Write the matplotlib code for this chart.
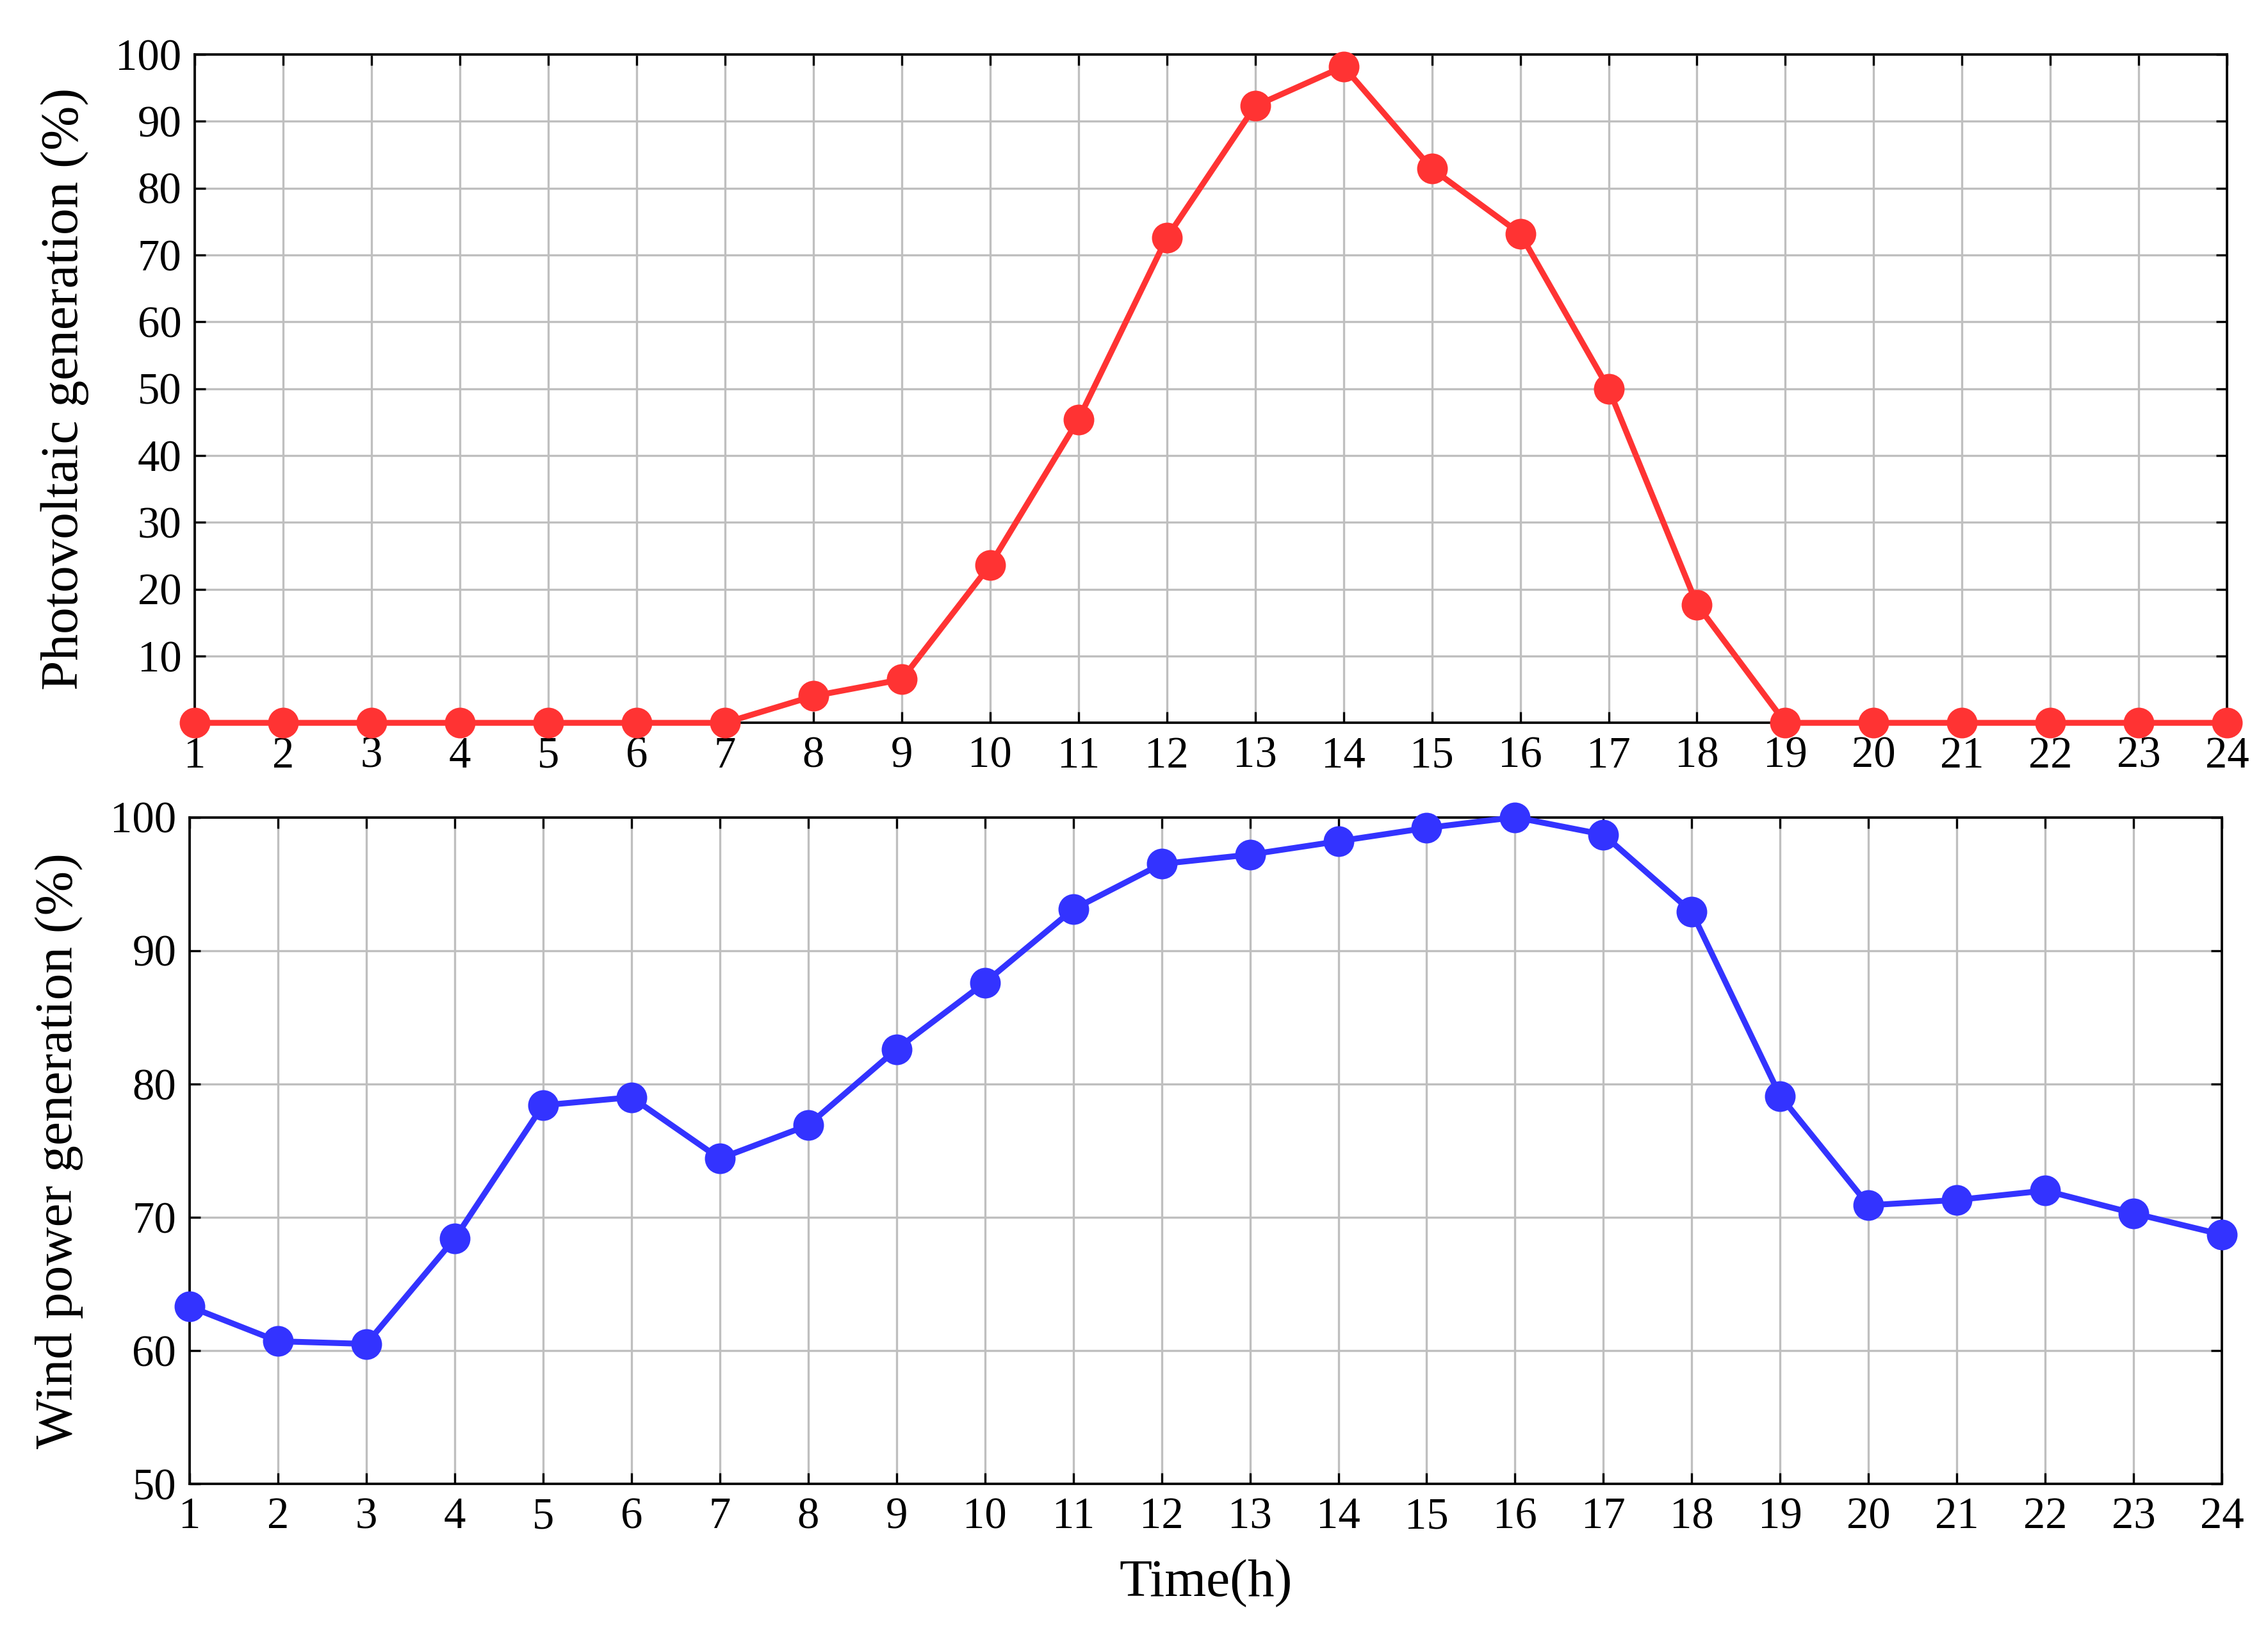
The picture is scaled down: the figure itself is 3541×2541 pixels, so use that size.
import matplotlib
matplotlib.use("Agg")
import matplotlib.pyplot as plt
import numpy as np

hours = list(range(1, 25))
pv = [0, 0, 0, 0, 0, 0, 0, 4.0, 6.5, 23.6, 45.4, 72.6, 92.3, 98.2,
      82.9, 73.2, 50.0, 17.7, 0, 0, 0, 0, 0, 0]
wind = [63.3, 60.7, 60.5, 68.4, 78.4, 79.0, 74.4, 76.9, 82.6, 87.6, 93.1, 96.5,
        97.2, 98.2, 99.2, 100.0, 98.7, 92.9, 79.1, 70.9, 71.3, 72.0, 70.3, 68.7]
pv_ticks = [10, 20, 30, 40, 50, 60, 70, 80, 90, 100]
wind_ticks = [50, 60, 70, 80, 90, 100]

plt.rcParams['font.family'] = ['Liberation Serif', 'DejaVu Serif']

fig = plt.figure(figsize=(3541/300, 2541/300), dpi=300)
ax1 = fig.add_axes([0.0859, 0.556, 0.8961, 0.4105])
ax2 = fig.add_axes([0.0836, 0.0885, 0.8961, 0.4095])

def style(ax, yticks, ylim):
    ax.set_xlim(1, 24)
    ax.set_ylim(*ylim)
    ax.set_xticks(hours)
    ax.set_yticks(yticks)
    ax.grid(True, color='#bfbfbf', linewidth=0.8)
    ax.set_axisbelow(True)
    ax.tick_params(direction='in', length=4, width=0.8, labelsize=16.5,
                   right=True, top=True, pad=5)
    for s in ax.spines.values():
        s.set_linewidth(0.9)

ax1.plot(hours, pv, '-o', color='#ff3333', lw=2.2, ms=10.5, clip_on=False, zorder=3)
style(ax1, pv_ticks, (0, 100))
ax1.set_ylabel('Photovoltaic generation (%)', fontsize=20, labelpad=10)

ax2.plot(hours, wind, '-o', color='#3333ff', lw=2.2, ms=10.5, clip_on=False, zorder=3)
style(ax2, wind_ticks, (50, 100))
ax2.set_ylabel('Wind power generation (%)', fontsize=20, labelpad=10)
ax2.set_xlabel('Time(h)', fontsize=20, labelpad=8)

fig.savefig('out.png', dpi=300)
